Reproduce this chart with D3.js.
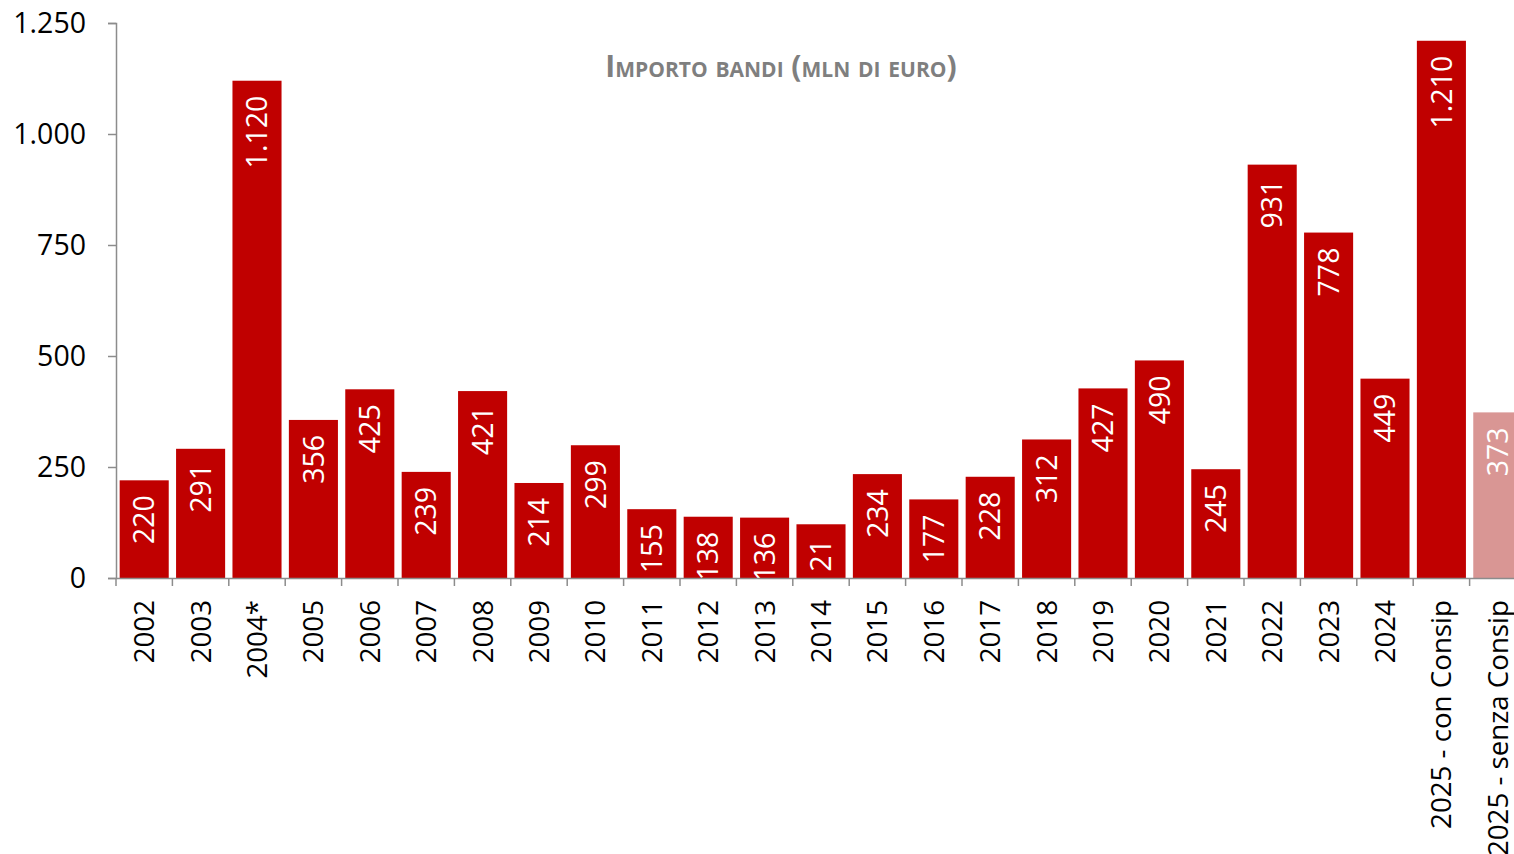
<!DOCTYPE html>
<html>
<head>
<meta charset="utf-8">
<script src="https://cdn.jsdelivr.net/npm/d3@7"></script>
<style>
  body { margin: 0; background: #fff; }
  text { font-family: "Open Sans", sans-serif; }
</style>
</head>
<body>
<script>
// data
const categories = ["2002", "2003", "2004*", "2005", "2006", "2007", "2008", "2009", "2010",
  "2011", "2012", "2013", "2014", "2015", "2016", "2017", "2018", "2019", "2020",
  "2021", "2022", "2023", "2024", "2025 - con Consip", "2025 - senza Consip"]
const values = [220, 291, 1120, 356, 425, 239, 421, 214, 299, 155, 138, 136, 121, 234,
  177, 228, 312, 427, 490, 245, 931, 778, 449, 1210, 373]
const yTicks = [0, 250, 500, 750, 1000, 1250]
const title = "Importo bandi (mln di euro)"

const width = 1514, height = 854
const margin = ({top: 23, right: -12, bottom: 276, left: 116})

const it = d3.formatLocale({decimal: ",", thousands: ".", grouping: [3], currency: ["", " €"]})
const fmt = it.format(",")

const data = categories.map((c, i) => ({cat: c, value: values[i]}))

const x = d3.scaleBand()
  .domain(categories)
  .range([margin.left, width - margin.right])
  .paddingInner(0.13)
  .paddingOuter(0.065)

const y = d3.scaleLinear()
  .domain([0, 1250])
  .range([height - margin.bottom, margin.top])

const color = d => d.cat === "2025 - senza Consip" ? "#d99694" : "#c00000"

const svg = d3.select("body").append("svg")
  .attr("width", width)
  .attr("height", height)

svg.append("defs").append("clipPath")
  .attr("id", "plot")
  .append("rect")
  .attr("x", margin.left)
  .attr("y", 0)
  .attr("width", width)
  .attr("height", y(0))

// bars
svg.append("g")
  .selectAll("rect")
  .data(data)
  .join("rect")
    .attr("x", d => x(d.cat))
    .attr("y", d => y(d.value))
    .attr("width", x.bandwidth())
    .attr("height", d => y(0) - y(d.value))
    .attr("fill", color)

// value labels, rotated, inside the top of the bar
svg.append("g")
  .attr("clip-path", "url(#plot)")
  .selectAll("text")
  .data(data)
  .join("text")
    .attr("transform", d => `translate(${x(d.cat) + x.bandwidth() / 2},${y(d.value) + 15}) rotate(-90)`)
    .attr("text-anchor", "end")
    .attr("dy", "0.36em")
    .attr("fill", "#fff")
    .attr("font-size", 28.5)
    .text(d => fmt(d.value))

// y axis
const yAxis = svg.append("g")
  .attr("transform", `translate(${margin.left},0)`)
  .call(d3.axisLeft(y).tickValues(yTicks).tickFormat(fmt).tickSize(8).tickPadding(22))
yAxis.selectAll("line, path").attr("stroke", "#8c8c8c").attr("stroke-width", 1.5)
yAxis.selectAll("text").attr("font-size", 28.5).attr("fill", "#000").attr("font-family", "Open Sans, sans-serif")

// x axis
const xAxis = svg.append("g")
  .attr("transform", `translate(0,${y(0)})`)
  .call(d3.axisBottom(x).tickSize(0).tickPadding(0).tickSizeOuter(0))
xAxis.select(".domain").attr("stroke", "#8c8c8c").attr("stroke-width", 1.5)
xAxis.selectAll("text")
  .attr("transform", "translate(0,22) rotate(-90)")
  .attr("text-anchor", "end")
  .attr("dy", "0.36em")
  .attr("y", 0)
  .attr("font-size", 27.7)
  .attr("fill", "#000")
  .attr("font-family", "Open Sans, sans-serif")

// category boundary ticks
xAxis.append("g")
  .selectAll("line")
  .data(categories.concat([null]))
  .join("line")
    .attr("x1", (d, i) => margin.left + i * x.step())
    .attr("x2", (d, i) => margin.left + i * x.step())
    .attr("y1", 0)
    .attr("y2", 8)
    .attr("stroke", "#8c8c8c")
    .attr("stroke-width", 1.5)

// title
svg.append("text")
  .attr("x", 781)
  .attr("y", 77)
  .attr("text-anchor", "middle")
  .attr("font-size", 30)
  .attr("font-weight", "bold")
  .attr("font-variant", "small-caps")
  .attr("fill", "#7f7f7f")
  .text(title)
</script>
</body>
</html>
